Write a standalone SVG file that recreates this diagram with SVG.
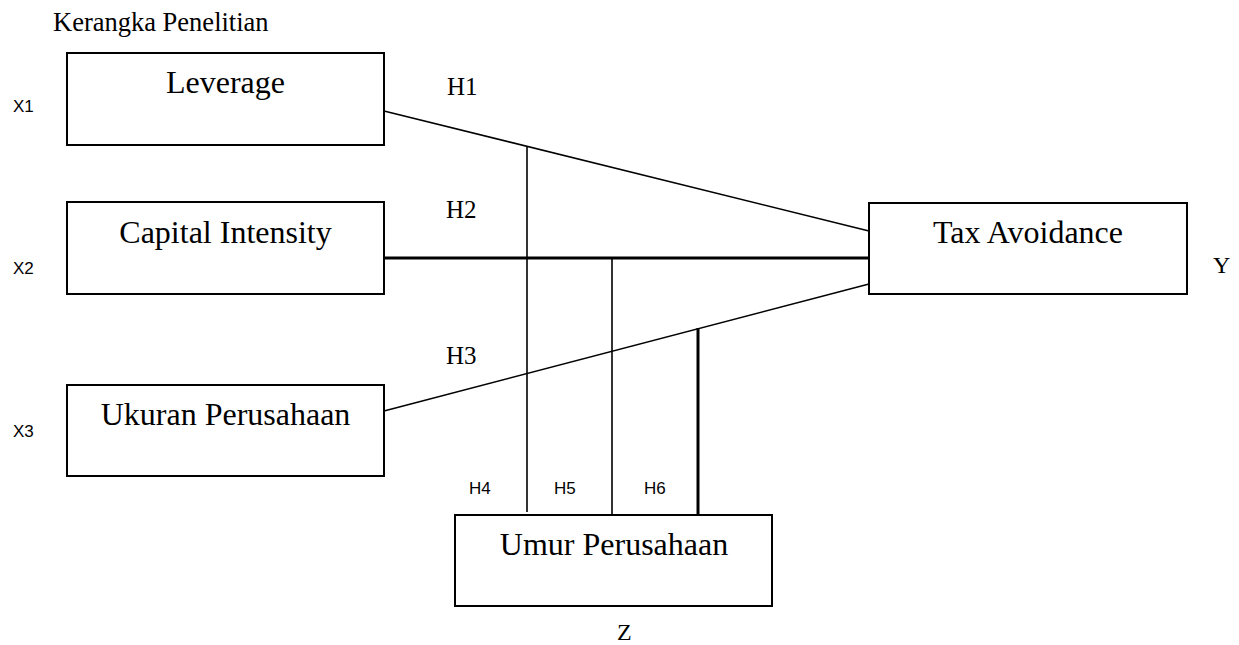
<svg xmlns="http://www.w3.org/2000/svg" width="1239" height="645" viewBox="0 0 1239 645">
<style>
.box{fill:#fff;stroke:#000;stroke-width:2}
.t{font-family:"Liberation Serif","Times New Roman",serif;fill:#000}
.big{font-size:32px;text-anchor:middle}
.s{font-family:"Liberation Sans",Arial,sans-serif;fill:#000}
.ln{stroke:#000;stroke-width:1.6;fill:none}
.thick{stroke:#000;stroke-width:3;fill:none}
</style>
<rect width="1239" height="645" fill="#fff"/>
<text class="t" x="53" y="31" font-size="26.5">Kerangka Penelitian</text>
<g id="connectors">
<line class="ln" x1="384" y1="111" x2="869" y2="231"/>
<line class="thick" x1="384" y1="258" x2="869" y2="258"/>
<line class="ln" x1="384" y1="411" x2="869" y2="284"/>
<line class="ln" x1="527" y1="146" x2="527" y2="512"/>
<line class="ln" x1="612" y1="258" x2="612" y2="515"/>
<line class="thick" x1="698" y1="328" x2="698" y2="518"/>
</g>
<g id="leverage">
<rect class="box" x="67" y="53" width="317" height="92"/>
<text class="t big" x="225.5" y="93">Leverage</text>
</g>
<g id="capital">
<rect class="box" x="67" y="202" width="317" height="92"/>
<text class="t big" x="225.5" y="243">Capital Intensity</text>
</g>
<g id="ukuran">
<rect class="box" x="67" y="385" width="317" height="91"/>
<text class="t big" x="225.5" y="425">Ukuran Perusahaan</text>
</g>
<g id="tax">
<rect class="box" x="869" y="203" width="318" height="91"/>
<text class="t big" x="1028" y="243">Tax Avoidance</text>
</g>
<g id="umur">
<rect class="box" x="455" y="515" width="317" height="91"/>
<text class="t big" x="614" y="555">Umur Perusahaan</text>
</g>
<g id="labels">
<text class="s" x="13" y="112" font-size="17">X1</text>
<text class="s" x="13" y="274" font-size="17">X2</text>
<text class="s" x="13" y="437" font-size="17">X3</text>
<text class="t" x="447" y="95" font-size="25">H1</text>
<text class="t" x="446" y="218" font-size="25">H2</text>
<text class="t" x="446" y="364" font-size="25">H3</text>
<text class="s" x="469" y="494" font-size="17">H4</text>
<text class="s" x="554" y="494" font-size="17">H5</text>
<text class="s" x="644" y="494" font-size="17">H6</text>
<text class="t" x="1213" y="273" font-size="24">Y</text>
<text class="t" x="617" y="640" font-size="24">Z</text>
</g>
</svg>
